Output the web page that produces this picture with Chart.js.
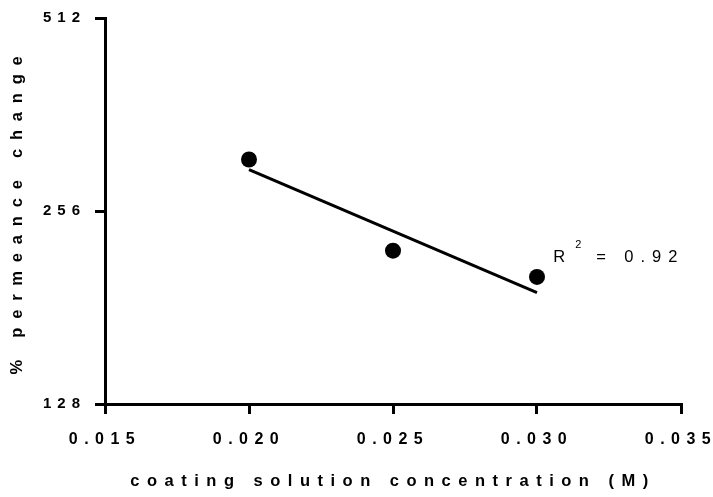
<!DOCTYPE html>
<html>
<head>
<meta charset="utf-8">
<script src="https://cdn.jsdelivr.net/npm/chart.js@4"></script>
<style>
  body { margin: 0; background: #fff; }
  #wrap { width: 713px; height: 497px; }
</style>
</head>
<body>
<div id="wrap"><canvas id="chart" width="713" height="497"></canvas></div>
<script>
// measured points
const concValues = [0.020, 0.025, 0.030];
const permChange = [308, 222, 202];
// fitted line (ends)
const fitConc = [0.020, 0.030];
const fitPerm = [297, 191];
// axes
const xTicks = [0.015, 0.020, 0.025, 0.030, 0.035];
const yTicks = [128, 256, 512];
const rSquaredText = '0.92';
const rLabelAt = { x: 0.03056, y: 213 };

const FONT = 'Liberation Sans, Arial, sans-serif';
// letter spacing (px) used by the original figure
const gaps = { xTicks: 6.5, yTicks: 6, xTitle: 7.5, yTitle: 8.8, note: 7 };

function spaceOut(scale, tickGap, titleGap) {
    if (scale._spaced) return;
    scale._spaced = true;
    const drawLabels = scale.drawLabels.bind(scale);
    const drawTitle = scale.drawTitle.bind(scale);
    scale.drawLabels = area => {
        scale.ctx.letterSpacing = tickGap + 'px';
        drawLabels(area);
        scale.ctx.letterSpacing = '0px';
    };
    scale.drawTitle = () => {
        scale.ctx.letterSpacing = titleGap + 'px';
        drawTitle();
        scale.ctx.letterSpacing = '0px';
    };
}

const spacingPlugin = {
    id: 'spacing',
    beforeDraw(chart) {
        spaceOut(chart.scales.x, gaps.xTicks, gaps.xTitle);
        spaceOut(chart.scales.y, gaps.yTicks, gaps.yTitle);
    }
};

const rLabelPlugin = {
    id: 'rLabel',
    afterDatasetsDraw(chart) {
        const ctx = chart.ctx;
        const x = chart.scales.x.getPixelForValue(rLabelAt.x);
        const y = chart.scales.y.getPixelForValue(rLabelAt.y);
        ctx.save();
        ctx.letterSpacing = gaps.note + 'px';
        ctx.fillStyle = '#000';
        ctx.textAlign = 'left';
        ctx.textBaseline = 'alphabetic';
        ctx.font = '16.5px ' + FONT;
        ctx.fillText('R', x, y);
        ctx.font = '11px ' + FONT;
        ctx.fillText('2', x + 22, y - 14);
        ctx.font = '16.5px ' + FONT;
        ctx.fillText('= ' + rSquaredText, x + 43, y);
        ctx.restore();
    }
};

function axisGrid() {
    return {
        drawOnChartArea: false,
        drawTicks: true,
        tickLength: 10,
        lineWidth: 3,
        tickWidth: 3,
        color: '#000',
        tickColor: '#000'
    };
}

new Chart(document.getElementById('chart'), {
    type: 'scatter',
    data: {
        datasets: [{
            label: 'fit',
            data: fitConc.map((c, i) => ({ x: c, y: fitPerm[i] })),
            showLine: true,
            borderColor: '#000',
            borderWidth: 3,
            pointRadius: 0,
            fill: false
        }, {
            label: 'data',
            data: concValues.map((c, i) => ({ x: c, y: permChange[i] })),
            showLine: false,
            backgroundColor: '#000',
            borderColor: '#000',
            borderWidth: 0,
            pointRadius: 8
        }]
    },
    options: {
        responsive: false,
        animation: false,
        devicePixelRatio: 1,
        layout: { padding: { top: 18, right: 32, bottom: 0, left: 0 } },
        plugins: {
            legend: { display: false },
            tooltip: { enabled: false }
        },
        scales: {
            x: {
                type: 'linear',
                position: 'bottom',
                min: 0.015,
                max: 0.035,
                afterBuildTicks: s => { s.ticks = xTicks.map(v => ({ value: v })); },
                afterFit: s => { s.height = 93; s.paddingLeft = 0; s.paddingRight = 0; },
                ticks: {
                    callback: v => Number(v).toFixed(3),
                    font: { family: FONT, size: 16, weight: 'bold' },
                    color: '#000',
                    padding: 16,
                    maxRotation: 0,
                    autoSkip: false
                },
                grid: axisGrid(),
                border: { display: true, width: 3, color: '#000' },
                title: {
                    display: true,
                    text: 'coating solution concentration (M)',
                    font: { family: FONT, size: 16.5, weight: 'bold' },
                    color: '#000',
                    padding: { top: 0, bottom: 6 }
                }
            },
            y: {
                type: 'logarithmic',
                position: 'left',
                min: 128,
                max: 512,
                afterBuildTicks: s => { s.ticks = yTicks.map(v => ({ value: v })); },
                afterFit: s => { s.width = 105; s.paddingTop = 0; s.paddingBottom = 0; },
                ticks: {
                    callback: v => String(v),
                    font: { family: FONT, size: 15, weight: 'bold' },
                    color: '#000',
                    padding: 9,
                    autoSkip: false
                },
                grid: axisGrid(),
                border: { display: true, width: 3, color: '#000' },
                title: {
                    display: true,
                    text: '% permeance change',
                    font: { family: FONT, size: 16.5, weight: 'bold' },
                    color: '#000',
                    padding: { top: 8, bottom: 0 }
                }
            }
        }
    },
    plugins: [spacingPlugin, rLabelPlugin]
});
</script>
</body>
</html>
